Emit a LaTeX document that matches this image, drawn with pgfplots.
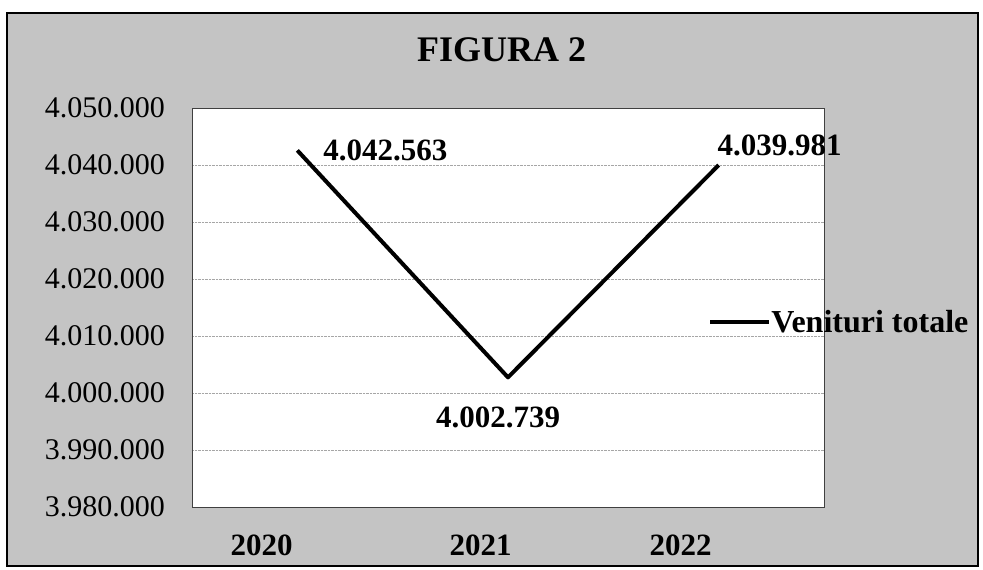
\documentclass[border=0pt]{standalone}
\usepackage{fontspec}
\setmainfont{Liberation Serif}
\usepackage{pgfplots}
\usepackage{pgfplotstable}
\pgfplotsset{compat=1.18}
\definecolor{bggray}{RGB}{196,196,196}
\pgfplotstableread{
x y lab dx dy
0 4042563 4.042.563 88 0
1 4002739 4.002.739 -10 -40
2 4039981 4.039.981 61 20
}\venituri
\begin{document}
\begin{tikzpicture}[x=1pt,y=1pt]
\fill[white] (0,0) rectangle (983,570);
\draw[black, line width=1.5pt, fill=bggray] (7,4) rectangle (978,557);
\begin{axis}[
  at={(192pt,63pt)}, anchor=south west,
  scale only axis, width=632pt, height=399pt,
  xmin=-0.5, xmax=2.5,
  ymin=3980000, ymax=4050000,
  scaled y ticks=false,
  ytick={3980000,3990000,4000000,4010000,4020000,4030000,4040000,4050000},
  yticklabels={3.980.000,3.990.000,4.000.000,4.010.000,4.020.000,4.030.000,4.040.000,4.050.000},
  xtick={-0.17,0.87,1.82},
  xticklabels={2020,2021,2022},
  major tick length=0pt,
  ymajorgrids,
  major grid style={densely dotted, gray!70, line width=0.8pt},
  axis background/.style={fill=white},
  axis line style={draw=black!75, line width=0.8pt},
  yticklabel style={font=\fontsize{30}{32}\selectfont, anchor=east, inner sep=0pt, xshift=-27pt},
  xticklabel style={font=\bfseries\fontsize{31}{33}\selectfont, anchor=center, inner sep=0pt, yshift=-38pt},
  title={FIGURA 2},
  title style={font=\bfseries\fontsize{36}{38}\selectfont, at={(axis description cs:0.49,1)}, anchor=center, yshift=52pt, inner sep=0pt},
  legend style={at={(axis cs:1.95,4012400)}, anchor=west, draw=none, fill=none, inner sep=0pt,
    font=\bfseries\fontsize{32}{34}\selectfont, nodes={inner sep=0pt}},
  legend image code/.code={\draw[#1] (0pt,0pt) -- (59pt,0pt);},
  clip=false,
]
\addplot[black, line width=4pt, line join=round, mark=none,
  point meta=explicit symbolic,
  visualization depends on={\thisrow{dx} \as \dx},
  visualization depends on={\thisrow{dy} \as \dy},
  nodes near coords,
  every node near coord/.append style={font=\bfseries\fontsize{31}{33}\selectfont, anchor=center, inner sep=0pt, xshift=\dx, yshift=\dy, text=black},
] table[x=x, y=y, meta=lab] {\venituri};
\addlegendentry{Venituri totale}
\end{axis}
\end{tikzpicture}
\end{document}
